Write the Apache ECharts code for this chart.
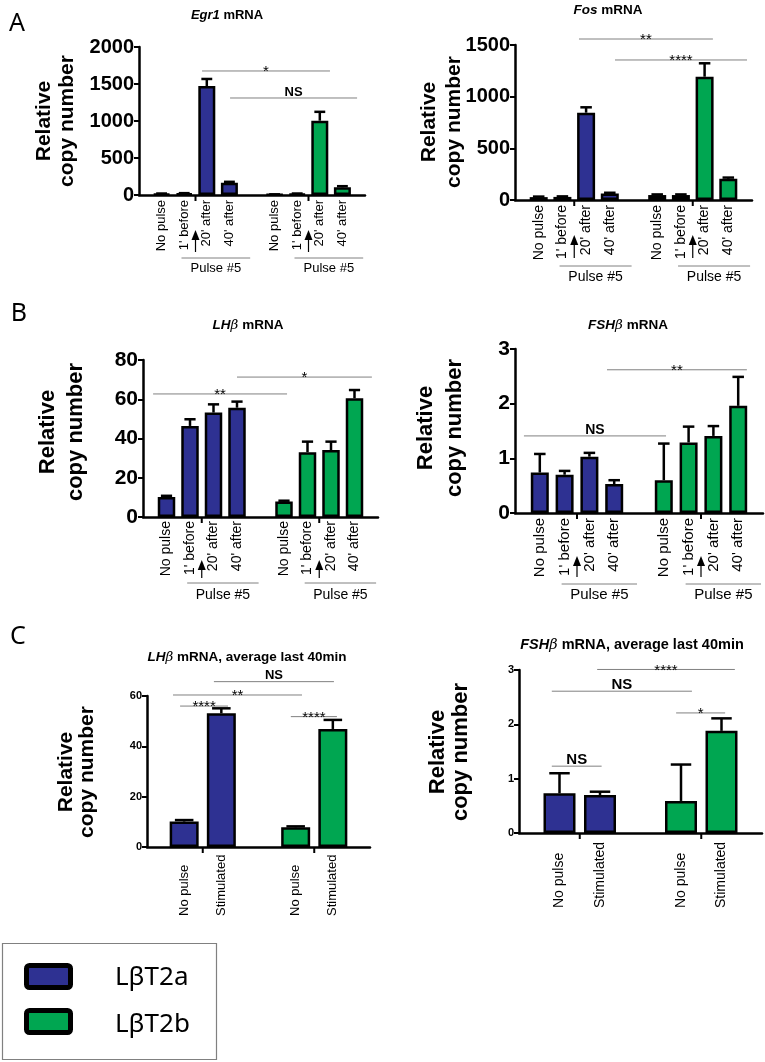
<!DOCTYPE html>
<html><head><meta charset="utf-8">
<script src="https://cdn.jsdelivr.net/npm/echarts@6/dist/echarts.min.js"></script>
<style>html,body{margin:0;padding:0;background:#fff}#c{width:765px;height:1062px}</style>
</head><body><div id="c"></div>
<script>
// ---------------- categories ----------------
const catsPulse = ['', 'No pulse', "1' before", "20' after", "40' after", '', 'No pulse', "1' before", "20' after", "40' after", ''];
const catsAvg = ['', 'No pulse', 'Stimulated', '', 'No pulse', 'Stimulated', ''];
const slotsPulse = { a: [1, 2, 3, 4], b: [6, 7, 8, 9] };
const slotsAvg = { a: [1, 2], b: [4, 5] };
const seriesNames = ['L\u03B2T2a', 'L\u03B2T2b'];

// ---------------- values (mean, error) ----------------
const egr1_a = [15, 20, 1473, 166];
const egr1_a_err = [5, 5, 95, 12];
const egr1_b = [6, 15, 1004, 104];
const egr1_b_err = [3, 5, 120, 15];

const fos_a = [28, 30, 845, 62];
const fos_a_err = [5, 5, 52, 8];
const fos_b = [48, 48, 1193, 205];
const fos_b_err = [6, 6, 130, 12];

const lhb_a = [10.2, 46.4, 53.2, 55.7];
const lhb_a_err = [0.6, 3.4, 4.2, 3.1];
const lhb_b = [7.9, 33.0, 34.1, 60.5];
const lhb_b_err = [0.4, 5.4, 4.3, 4.2];

const fshb_a = [0.74, 0.70, 1.03, 0.53];
const fshb_a_err = [0.34, 0.07, 0.07, 0.07];
const fshb_b = [0.60, 1.29, 1.41, 1.96];
const fshb_b_err = [0.67, 0.29, 0.18, 0.53];

const lhbAvg_a = [10.1, 53.1];
const lhbAvg_a_err = [0.6, 2.0];
const lhbAvg_b = [7.8, 46.9];
const lhbAvg_b_err = [0.4, 3.6];

const fshbAvg_a = [0.73, 0.70];
const fshbAvg_a_err = [0.37, 0.06];
const fshbAvg_b = [0.59, 1.88];
const fshbAvg_b_err = [0.67, 0.23];

// significance brackets: [from category pos, to category pos, y value, label]
const sigEgr1 = [[2.79, 8.45, 1676, '*'], [4.03, 9.65, 1311, 'NS']];
const sigFos = [[2.70, 8.35, 1558, '**'], [4.22, 9.79, 1355, '****']];
const sigLHb = [[0.43, 6.13, 62.7, '**'], [4.0, 9.74, 71.3, '*']];
const sigFSHb = [[0.36, 6.09, 1.41, 'NS'], [3.71, 9.35, 2.62, '**']];
const sigLHbAvg = [[1.80, 5.03, 65.7, 'NS'], [0.70, 4.17, 60.4, '**'], [0.89, 2.18, 56, '****'], [3.87, 5.11, 51.8, '****']];
const sigFSHbAvg = [[1.93, 5.33, 3.01, '****'], [0.81, 4.27, 2.61, 'NS'], [3.88, 5.09, 2.21, '*'], [0.81, 2.04, 1.23, 'NS']];

// ---------------- styles / layout ----------------
const FONT = '"Liberation Sans", Arial, sans-serif';
const BLUE = '#2e3192', GREEN = '#00a651';

const panels = [
  { cats: catsPulse, slots: slotsPulse, a: egr1_a, ae: egr1_a_err, b: egr1_b, be: egr1_b_err, sig: sigEgr1,
    grid: { left: 139, top: 47, width: 226, height: 148 }, max: 2000, interval: 500, barW: 17,
    yFont: 20, xFont: 13, xMargin: 5, sigFont: 13, pulse: { line: 63, text: 73, a0: 35, a1: 57, font: 13 } },
  { cats: catsPulse, slots: slotsPulse, a: fos_a, ae: fos_a_err, b: fos_b, be: fos_b_err, sig: sigFos,
    grid: { left: 515, top: 45, width: 237, height: 155 }, max: 1500, interval: 500, barW: 18,
    yFont: 20, xFont: 14, xMargin: 5, sigFont: 13, pulse: { line: 66, text: 77, a0: 35, a1: 58, font: 14 } },
  { cats: catsPulse, slots: slotsPulse, a: lhb_a, ae: lhb_a_err, b: lhb_b, be: lhb_b_err, sig: sigLHb,
    grid: { left: 143, top: 360, width: 235, height: 157 }, max: 80, interval: 20, barW: 17.5,
    yFont: 21, xFont: 14, xMargin: 4, sigFont: 13, pulse: { line: 66, text: 78, a0: 43, a1: 61, font: 14 } },
  { cats: catsPulse, slots: slotsPulse, a: fshb_a, ae: fshb_a_err, b: fshb_b, be: fshb_b_err, sig: sigFSHb,
    grid: { left: 515, top: 349, width: 248, height: 164 }, max: 3, interval: 1, barW: 18,
    yFont: 21, xFont: 15, xMargin: 5, sigFont: 14, pulse: { line: 71, text: 82, a0: 43, a1: 64, font: 15 } },
  { cats: catsAvg, slots: slotsAvg, a: lhbAvg_a, ae: lhbAvg_a_err, b: lhbAvg_b, be: lhbAvg_b_err, sig: sigLHbAvg,
    grid: { left: 147, top: 696, width: 223, height: 151 }, max: 60, interval: 20, barW: 29,
    yFont: 11, xFont: 13, xMargin: 69, sigFont: 13, pulse: null },
  { cats: catsAvg, slots: slotsAvg, a: fshbAvg_a, ae: fshbAvg_a_err, b: fshbAvg_b, be: fshbAvg_b_err, sig: sigFSHbAvg,
    grid: { left: 519, top: 670, width: 243, height: 163 }, max: 3, interval: 1, barW: 32,
    yFont: 11, xFont: 14, xMargin: 75, sigFont: 15, pulse: null }
];

function xpx(api, xf) {
  const c0 = api.coord([0, 0])[0], c1 = api.coord([1, 0])[0];
  return c0 + xf * (c1 - c0);
}

function fullData(n, slots, vals) {
  const d = new Array(n).fill(null);
  slots.forEach((s, k) => { d[s] = vals[k]; });
  return d;
}

const grids = [], xAxes = [], yAxes = [], series = [];

panels.forEach((p, i) => {
  grids.push(Object.assign({ containLabel: false, outerBoundsMode: 'none' }, p.grid));
  // pulse panels: labels through the axis; average panels: labels drawn bottom-aligned in the decoration series
  const xLabel = { show: !!p.pulse, interval: 0, rotate: 90, fontSize: p.xFont, color: '#000', fontFamily: FONT, margin: p.xMargin };
  xAxes.push({
    type: 'category', gridIndex: i, data: p.cats, boundaryGap: false,
    axisLine: { show: true, onZero: false, lineStyle: { color: '#000', width: 2.5 } },
    axisTick: { show: false }, splitLine: { show: false }, axisLabel: xLabel
  });
  yAxes.push({
    type: 'value', gridIndex: i, min: 0, max: p.max, interval: p.interval,
    axisLine: { show: true, lineStyle: { color: '#000', width: 2.5 } },
    axisTick: { show: true, inside: false, length: 5, lineStyle: { color: '#000', width: 2 } },
    splitLine: { show: false },
    axisLabel: { fontSize: p.yFont, fontWeight: 'bold', color: '#000', fontFamily: FONT, margin: 5,
      formatter: v => String(v) }
  });
  const n = p.cats.length;
  [['a', 'ae', BLUE, 0], ['b', 'be', GREEN, 1]].forEach(([k, ke, col, si]) => {
    series.push({
      type: 'bar', name: seriesNames[si], xAxisIndex: i, yAxisIndex: i,
      data: fullData(n, p.slots[k], p[k]), barWidth: p.barW, barGap: '-100%', silent: true,
      itemStyle: { color: col, borderColor: '#000', borderWidth: 2.5 }
    });
  });
  // error bars
  const errData = [];
  p.slots.a.forEach((s, k) => errData.push([s, p.a[k], p.ae[k]]));
  p.slots.b.forEach((s, k) => errData.push([s, p.b[k], p.be[k]]));
  series.push({
    type: 'custom', xAxisIndex: i, yAxisIndex: i, clip: false, silent: true, data: errData, z: 3,
    renderItem: function (params, api) {
      const d = errData[params.dataIndex];
      const p0 = api.coord([d[0], d[1]]), p1 = api.coord([d[0], d[1] + d[2]]);
      const cw = p.barW * 0.32;
      return { type: 'group', children: [
        { type: 'line', shape: { x1: p0[0], y1: p0[1], x2: p1[0], y2: p1[1] }, style: { stroke: '#000', lineWidth: 2.5 } },
        { type: 'line', shape: { x1: p1[0] - cw, y1: p1[1], x2: p1[0] + cw, y2: p1[1] }, style: { stroke: '#000', lineWidth: 2.5 } }
      ] };
    }
  });
  // significance brackets
  series.push({
    type: 'custom', xAxisIndex: i, yAxisIndex: i, clip: false, silent: true, z: 3,
    data: p.sig.map(s => [s[0], s[2]]),
    renderItem: function (params, api) {
      const s = p.sig[params.dataIndex];
      const x1 = xpx(api, s[0]), x2 = xpx(api, s[1]);
      const y = api.coord([0, s[2]])[1];
      const isNS = s[3] === 'NS';
      return { type: 'group', children: [
        { type: 'line', shape: { x1: x1, y1: y, x2: x2, y2: y }, style: { stroke: '#808080', lineWidth: 1 } },
        { type: 'text', style: { text: s[3], x: (x1 + x2) / 2, y: isNS ? y - 6 : y + 1, align: 'center', verticalAlign: 'middle',
          font: (isNS ? 'bold ' + p.sigFont : 15) + 'px ' + FONT, fill: '#000' } }
      ] };
    }
  });
  // decorations: axis tick between bars, stimulus arrow, "Pulse #5" brackets, bottom-aligned labels
  series.push({
    type: 'custom', xAxisIndex: i, yAxisIndex: i, clip: false, silent: true, z: 3, data: [[0, 0]],
    renderItem: function (params, api) {
      const y0 = api.coord([0, 0])[1];
      const kids = [];
      [p.slots.a, p.slots.b].forEach(sl => {
        const mid = p.pulse ? (sl[1] + sl[2]) / 2 : (sl[0] + sl[1]) / 2;
        const xa = xpx(api, mid);
        kids.push({ type: 'line', shape: { x1: xa, y1: y0, x2: xa, y2: y0 + 6 }, style: { stroke: '#000', lineWidth: 2 } });
        if (p.pulse) {
          const q = p.pulse;
          kids.push({ type: 'line', shape: { x1: xa, y1: y0 + q.a0 + 8, x2: xa, y2: y0 + q.a1 }, style: { stroke: '#000', lineWidth: 1.2 } });
          kids.push({ type: 'polygon', shape: { points: [[xa, y0 + q.a0], [xa - 4, y0 + q.a0 + 10], [xa + 4, y0 + q.a0 + 10]] }, style: { fill: '#000' } });
          const xl = xpx(api, sl[1] - 0.12), xr = xpx(api, sl[3] + 0.92);
          kids.push({ type: 'line', shape: { x1: xl, y1: y0 + q.line, x2: xr, y2: y0 + q.line }, style: { stroke: '#808080', lineWidth: 1 } });
          kids.push({ type: 'text', style: { text: 'Pulse #5', x: (xl + xr) / 2, y: y0 + q.text, align: 'center', verticalAlign: 'middle',
            font: q.font + 'px ' + FONT, fill: '#000' } });
        } else {
          sl.forEach(s => {
            kids.push({ type: 'text', x: xpx(api, s), y: y0 + p.xMargin, rotation: Math.PI / 2, style: {
              text: p.cats[s], align: 'left', verticalAlign: 'middle', font: p.xFont + 'px ' + FONT, fill: '#000' } });
          });
        }
      });
      return { type: 'group', children: kids };
    }
  });
});

// ---------------- text decorations ----------------
function richTitle(x, y, parts, size) {
  return { type: 'text', x: x, y: y, z: 10, style: {
    text: parts, align: 'center', verticalAlign: 'middle', fill: '#000',
    rich: {
      bi: { fontStyle: 'italic', fontWeight: 'bold', fontSize: size, fontFamily: FONT },
      gi: { fontStyle: 'italic', fontWeight: 'normal', fontSize: size, fontFamily: '"DejaVu Serif", serif' },
      b: { fontWeight: 'bold', fontSize: size, fontFamily: FONT }
    } } };
}
function yTitle(x, y, size, lh) {
  return { type: 'text', x: x, y: y, rotation: Math.PI / 2, z: 10, style: {
    text: 'Relative\ncopy number', font: 'bold ' + size + 'px ' + FONT, lineHeight: lh,
    align: 'center', verticalAlign: 'middle', fill: '#000' } };
}
function letter(x, y, t) {
  return { type: 'text', x: x, y: y, z: 10, style: { text: t, font: '25px "Noto Sans", sans-serif', align: 'center', verticalAlign: 'middle', fill: '#000' } };
}

const graphics = [
  letter(17, 24, 'A'), letter(19, 314, 'B'), letter(18, 637, 'C'),
  richTitle(227, 15, '{bi|Egr1}{b| mRNA}', 13),
  richTitle(608, 10, '{bi|Fos}{b| mRNA}', 13.5),
  richTitle(248, 325, '{bi|LH}{gi|\u03B2}{b| mRNA}', 13.5),
  richTitle(628, 325, '{bi|FSH}{gi|\u03B2}{b| mRNA}', 13.5),
  richTitle(247, 657, '{bi|LH}{gi|\u03B2}{b| mRNA, average last 40min}', 13.5),
  richTitle(632, 645, '{bi|FSH}{gi|\u03B2}{b| mRNA, average last 40min}', 14.5),
  yTitle(56, 121, 21, 23),
  yTitle(442, 122, 21, 25),
  yTitle(62, 432, 22, 28),
  yTitle(440, 428, 22, 29),
  yTitle(77, 772, 21, 21),
  yTitle(449, 752, 22, 23),
  // legend box
  { type: 'rect', z: 10, shape: { x: 2.5, y: 943.5, width: 214, height: 116 }, style: { fill: '#fff', stroke: '#808080', lineWidth: 1.2 } },
  { type: 'rect', z: 11, shape: { x: 26.5, y: 965.5, width: 44, height: 22, r: 3 }, style: { fill: BLUE, stroke: '#000', lineWidth: 5 } },
  { type: 'rect', z: 11, shape: { x: 26.5, y: 1010.5, width: 44, height: 22, r: 3 }, style: { fill: GREEN, stroke: '#000', lineWidth: 5 } },
  { type: 'text', z: 11, x: 115, y: 978, style: { text: seriesNames[0], font: '26px "Noto Sans", sans-serif', verticalAlign: 'middle', fill: '#000' } },
  { type: 'text', z: 11, x: 115, y: 1025, style: { text: seriesNames[1], font: '26px "Noto Sans", sans-serif', verticalAlign: 'middle', fill: '#000' } }
];

const chart = echarts.init(document.getElementById('c'), null, { renderer: 'canvas', width: 765, height: 1062 });
chart.setOption({
  animation: false,
  backgroundColor: '#fff',
  grid: grids, xAxis: xAxes, yAxis: yAxes, series: series,
  graphic: graphics
});
</script>
</body></html>
